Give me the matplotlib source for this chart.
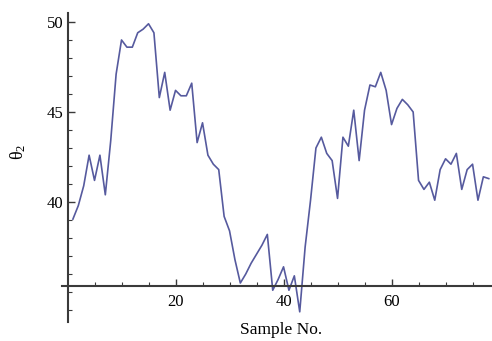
import matplotlib
matplotlib.use("Agg")
import matplotlib.pyplot as plt
from matplotlib.ticker import FixedLocator, NullFormatter

# sample number and theta_2 values
sample_no = list(range(1, 79))
theta2 = [39.05, 39.8, 40.9, 42.6, 41.2, 42.6, 40.4, 43.4, 47.1, 49.0,
          48.6, 48.6, 49.4, 49.6, 49.9, 49.4, 45.8, 47.2, 45.1, 46.2,
          45.9, 45.9, 46.6, 43.3, 44.4, 42.6, 42.1, 41.8, 39.2, 38.4,
          36.8, 35.5, 36.0, 36.6, 37.1, 37.6, 38.2, 35.1, 35.7, 36.4,
          35.1, 35.9, 33.9, 37.5, 40.1, 43.0, 43.6, 42.7, 42.3, 40.2,
          43.6, 43.1, 45.1, 42.3, 45.1, 46.5, 46.4, 47.2, 46.2, 44.3,
          45.2, 45.7, 45.4, 45.0, 41.2, 40.7, 41.1, 40.1, 41.8, 42.4,
          42.1, 42.7, 40.7, 41.8, 42.1, 40.1, 41.4, 41.3]

x_major = [20, 40, 60]
x_minor = [5, 10, 15, 25, 30, 35, 45, 50, 55, 65, 70, 75]
y_major = [40, 45, 50]
y_minor = [34, 35, 36, 37, 38, 39, 41, 42, 43, 44, 46, 47, 48, 49]

plt.rcParams['font.family'] = ['Liberation Serif', 'DejaVu Serif']

fig = plt.figure(figsize=(4.92, 3.41), dpi=100)
ax = fig.add_axes([0, 0, 1, 1])
ax.patch.set_alpha(0)

ax.plot(sample_no, theta2, color='#565a9e', lw=1.2)

ax.set_xlim(-12.5, 78.6)
ax.set_ylim(32.28, 51.22)

axis_col = '#3a3a3a'
for s in ['top', 'right']:
	ax.spines[s].set_visible(False)
ax.spines['left'].set_position(('data', 0))
ax.spines['bottom'].set_position(('data', 35.33))
ax.spines['left'].set_bounds(33.33, 50.5)
ax.spines['bottom'].set_bounds(-1.0, 78.6)
for s in ['left', 'bottom']:
	ax.spines[s].set_color(axis_col)
	ax.spines[s].set_linewidth(1.5)

ax.xaxis.set_major_locator(FixedLocator(x_major))
ax.xaxis.set_minor_locator(FixedLocator(x_minor))
ax.yaxis.set_major_locator(FixedLocator(y_major))
ax.yaxis.set_minor_locator(FixedLocator(y_minor))
ax.xaxis.set_minor_formatter(NullFormatter())
ax.yaxis.set_minor_formatter(NullFormatter())

ax.tick_params(which='major', direction='in', length=5, width=1.0, color=axis_col, labelsize=12)
ax.tick_params(which='minor', direction='in', length=3, width=0.8, color=axis_col)
ax.tick_params(axis='x', which='major', pad=6)
ax.tick_params(axis='y', which='major', pad=3)

fig.text(281/492, 1 - 330/341, 'Sample No.', ha='center', va='center', fontsize=12.5)
fig.text(18/492, 1 - 152/341, r'$\mathregular{θ_2}$', ha='center', va='center',
		 rotation=90, fontsize=13)

fig.savefig('out.png', dpi=100)
